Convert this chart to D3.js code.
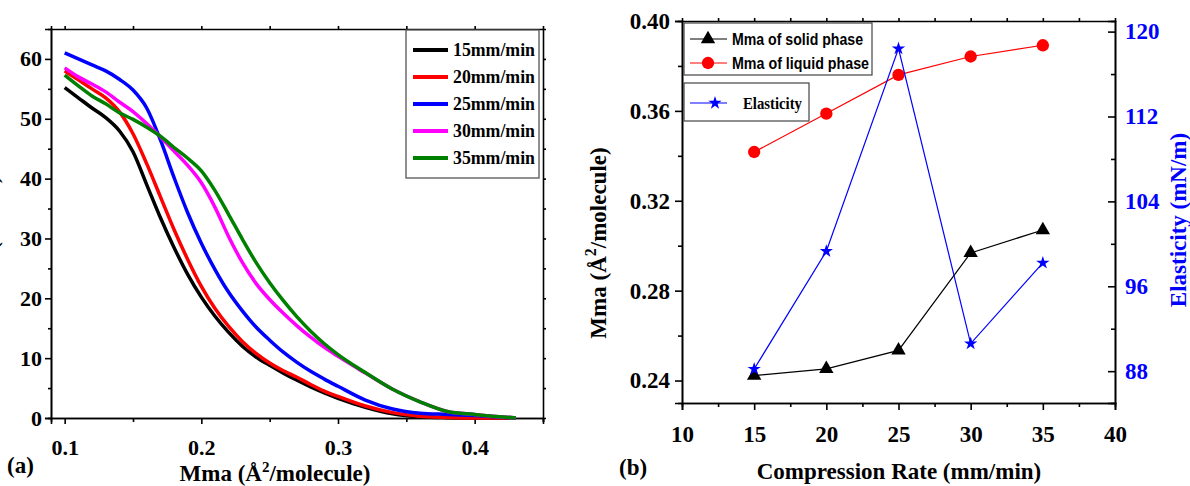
<!DOCTYPE html>
<html>
<head>
<meta charset="utf-8">
<script src="https://cdn.jsdelivr.net/npm/d3@7"></script>
<style>
body { margin: 0; background: #fff; }
svg text { font-family: "Liberation Serif", "Times New Roman", serif; font-weight: bold; }
.axis path, .axis line { stroke: #000; stroke-width: 1.6; }
</style>
</head>
<body>
<svg id="fig" width="1190" height="486"></svg>
<script>
// ---- panel (a): isotherms ----
var area = [0.10, 0.11, 0.12, 0.13, 0.14, 0.15, 0.16, 0.17, 0.18, 0.19, 0.20, 0.21, 0.22, 0.23, 0.24, 0.25, 0.26, 0.27, 0.28, 0.29, 0.30, 0.32, 0.34, 0.36, 0.38, 0.40, 0.43];
var p15 = [55.2, 53.5, 51.8, 50.2, 48.0, 44.5, 39.0, 33.5, 28.5, 24.0, 20.2, 17.0, 14.3, 12.0, 10.2, 8.8, 7.5, 6.3, 5.2, 4.2, 3.3, 1.8, 0.7, 0.2, 0.05, 0, 0];
var p20 = [58.0, 56.5, 55.0, 53.5, 51.2, 47.5, 42.5, 37.0, 31.5, 26.5, 22.0, 18.3, 15.3, 12.8, 10.8, 9.2, 7.9, 6.8, 5.6, 4.5, 3.6, 2.0, 0.9, 0.3, 0.1, 0, 0];
var p25 = [61.0, 60.0, 59.0, 58.0, 56.6, 54.8, 51.8, 46.5, 40.2, 34.3, 29.2, 24.8, 21.0, 17.9, 15.2, 13.0, 11.0, 9.3, 7.8, 6.5, 5.3, 3.0, 1.5, 0.8, 0.6, 0.4, 0];
var p30 = [58.5, 57.0, 55.8, 54.5, 52.8, 51.2, 49.2, 47.0, 44.6, 42.2, 39.3, 35.2, 30.3, 26.0, 22.5, 19.8, 17.5, 15.4, 13.5, 11.8, 10.3, 7.5, 4.8, 2.7, 1.1, 0.6, 0];
var p35 = [57.3, 55.5, 53.8, 52.5, 51.0, 49.9, 48.6, 47.1, 45.2, 43.4, 41.3, 38.0, 34.0, 29.9, 26.0, 22.6, 19.6, 16.9, 14.5, 12.4, 10.6, 7.6, 4.8, 2.7, 1.1, 0.6, 0];
var rateNames = ["15mm/min", "20mm/min", "25mm/min", "30mm/min", "35mm/min"];
var rateColors = ["#000000", "#ff0000", "#0000ff", "#ff00ff", "#008000"];
var areaTicks = [0.1, 0.2, 0.3, 0.4];
var pressureTicks = [0, 10, 20, 30, 40, 50, 60];

// ---- panel (b): Mma and elasticity vs compression rate ----
var rates = [15, 20, 25, 30, 35];
var mmaSolid = [0.2422, 0.2452, 0.2534, 0.2968, 0.3070];
var mmaLiquid = [0.3417, 0.3588, 0.3760, 0.3842, 0.3892];
var elasticity = [88.2, 99.3, 118.4, 90.6, 98.2];
var rateTicks = [10, 15, 20, 25, 30, 35, 40];
var mmaTicks = [0.24, 0.28, 0.32, 0.36, 0.40];
var elasTicks = [88, 96, 104, 112, 120];

var svg = d3.select("#fig");

function styleAxis(g, size, color) {
  g.attr("class", "axis");
  g.selectAll("text").attr("font-size", size).attr("fill", color || "#000");
  return g;
}

// ================= panel (a) =================
var xA = d3.scaleLinear().domain([0.09, 0.45]).range([51, 543]);
var yA = d3.scaleLinear().domain([0, 65]).range([418, 29]);

// minor ticks
svg.append("g").attr("transform", "translate(0,418)").call(d3.axisBottom(xA).tickValues([0.15, 0.25, 0.35, 0.45]).tickSize(4).tickFormat("")).attr("class", "axis");
svg.append("g").attr("transform", "translate(51,0)").call(d3.axisLeft(yA).tickValues([5, 15, 25, 35, 45, 55]).tickSize(3).tickFormat("")).attr("class", "axis");
svg.append("g").attr("transform", "translate(0,29)").call(d3.axisTop(xA).tickValues([0.1, 0.15, 0.2, 0.25, 0.3, 0.35, 0.4]).tickSize(3).tickFormat("")).attr("class", "axis");
svg.append("g").attr("transform", "translate(543,0)").call(d3.axisRight(yA).tickValues(d3.range(5, 65, 5)).tickSize(3).tickFormat("")).attr("class", "axis");

svg.append("g").attr("transform", "translate(0,418)")
  .call(d3.axisBottom(xA).tickValues(areaTicks).tickSize(6).tickPadding(15).tickFormat(d3.format(".1f")))
  .call(styleAxis, 22);
svg.append("g").attr("transform", "translate(51,0)")
  .call(d3.axisLeft(yA).tickValues(pressureTicks).tickSize(6).tickPadding(3))
  .call(styleAxis, 22);

var isoSeries = [p15, p20, p25, p30, p35];
var lineA = d3.line()
  .x(function(d, i) { return xA(area[i]); })
  .y(function(d) { return yA(d); })
  .curve(d3.curveMonotoneX);

isoSeries.forEach(function(s, k) {
  svg.append("path")
    .datum(s)
    .attr("d", lineA)
    .attr("fill", "none")
    .attr("stroke", rateColors[k])
    .attr("stroke-width", 3.5)
    .attr("stroke-linejoin", "round");
});

// legend (a)
svg.append("rect").attr("x", 406).attr("y", 30).attr("width", 133).attr("height", 148)
  .attr("fill", "#fff").attr("stroke", "#555").attr("stroke-width", 1.3);
rateNames.forEach(function(n, k) {
  var ly = 50 + k * 27;
  svg.append("line").attr("x1", 413).attr("x2", 448).attr("y1", ly).attr("y2", ly)
    .attr("stroke", rateColors[k]).attr("stroke-width", 4);
  svg.append("text").attr("x", 453).attr("y", ly + 6).attr("font-size", 18)
    .attr("textLength", 82).attr("lengthAdjust", "spacingAndGlyphs").text(n);
});

// titles (a)
var tA = svg.append("text").attr("x", 275).attr("y", 481).attr("text-anchor", "middle").attr("font-size", 23);
tA.append("tspan").text("Mma (Å");
tA.append("tspan").attr("dy", -9).attr("font-size", 15).text("2");
tA.append("tspan").attr("dy", 9).text("/molecule)");
svg.append("text").attr("x", 7).attr("y", 473).attr("font-size", 23).text("(a)");
// y title sits mostly beyond the left edge, as in the original figure
svg.append("text").attr("transform", "translate(-2,176) rotate(-90)").attr("text-anchor", "end")
  .attr("font-size", 22).text("Surface Pressure (mN/m)");

// ================= panel (b) =================
var xB = d3.scaleLinear().domain([10, 40]).range([682, 1115]);
var yB = d3.scaleLinear().domain([0.23, 0.40]).range([403, 21]);
var yE = d3.scaleLinear().domain([85, 121]).range([403, 21]);

svg.append("g").attr("transform", "translate(0,403)").call(d3.axisBottom(xB).tickValues(d3.range(12.5, 40, 5)).tickSize(4).tickFormat("")).attr("class", "axis");
svg.append("g").attr("transform", "translate(682,0)").call(d3.axisLeft(yB).tickValues([0.26, 0.30, 0.34, 0.38]).tickSize(4).tickFormat("")).attr("class", "axis");
svg.append("g").attr("transform", "translate(0,21)").call(d3.axisTop(xB).tickValues(d3.range(12.5, 40, 2.5)).tickSize(3).tickFormat("")).attr("class", "axis");
svg.append("g").attr("transform", "translate(1115,0)").call(d3.axisRight(yE).tickValues([92, 100, 108, 116]).tickSize(-4).tickFormat("")).attr("class", "axis");

svg.append("g").attr("transform", "translate(0,403)")
  .call(d3.axisBottom(xB).tickValues(rateTicks).tickSize(7).tickPadding(16))
  .call(styleAxis, 23);
svg.append("g").attr("transform", "translate(682,0)")
  .call(d3.axisLeft(yB).tickValues(mmaTicks).tickSize(7).tickPadding(5).tickFormat(d3.format(".2f")))
  .call(styleAxis, 23);
svg.append("g").attr("transform", "translate(1115,0)")
  .call(d3.axisRight(yE).tickValues(elasTicks).tickSize(-7).tickPadding(10))
  .call(styleAxis, 23, "#0000ff");

function drawSeries(vals, yScale, color, symbol, size) {
  var ln = d3.line().x(function(d, i) { return xB(rates[i]); }).y(function(d) { return yScale(d); });
  svg.append("path").datum(vals).attr("d", ln).attr("fill", "none")
    .attr("stroke", color).attr("stroke-width", 1.2);
  svg.selectAll(null).data(vals).enter().append("path")
    .attr("d", d3.symbol().type(symbol).size(size))
    .attr("transform", function(d, i) { return "translate(" + xB(rates[i]) + "," + yScale(d) + ")"; })
    .attr("fill", color);
}
drawSeries(mmaSolid, yB, "#000000", d3.symbolTriangle, 90);
drawSeries(mmaLiquid, yB, "#ff0000", d3.symbolCircle, 120);
drawSeries(elasticity, yE, "#0000ff", d3.symbolStar, 55);

// legends (b)
svg.append("rect").attr("x", 684).attr("y", 23).attr("width", 188).attr("height", 52)
  .attr("fill", "#fff").attr("stroke", "#444").attr("stroke-width", 1.2);
svg.append("rect").attr("x", 684).attr("y", 83).attr("width", 125).attr("height", 38)
  .attr("fill", "#fff").attr("stroke", "#444").attr("stroke-width", 1.2);

var legB = [
  { name: "Mma of solid phase", color: "#000000", sym: d3.symbolTriangle, size: 90, y: 39, len: 131, sans: true },
  { name: "Mma of liquid phase", color: "#ff0000", sym: d3.symbolCircle, size: 120, y: 63, len: 137, sans: true },
  { name: "Elasticity", color: "#0000ff", sym: d3.symbolStar, size: 55, y: 103, len: 59, sans: false }
];
legB.forEach(function(e) {
  svg.append("line").attr("x1", 690).attr("x2", 727).attr("y1", e.y).attr("y2", e.y)
    .attr("stroke", e.color).attr("stroke-width", 1.2);
  svg.append("path").attr("d", d3.symbol().type(e.sym).size(e.size))
    .attr("transform", "translate(" + (e.sans ? 708 : 715) + "," + e.y + ")").attr("fill", e.color);
  svg.append("text").attr("x", e.sans ? 732 : 743).attr("y", e.y + 6)
    .attr("font-size", 16)
    .style("font-family", e.sans ? "'Liberation Sans', Arial, sans-serif" : null)
    .attr("textLength", e.len).attr("lengthAdjust", "spacingAndGlyphs").text(e.name);
});

// titles (b)
var tB = svg.append("text").attr("transform", "translate(606,243) rotate(-90)").attr("text-anchor", "middle").attr("font-size", 23);
tB.append("tspan").text("Mma (Å");
tB.append("tspan").attr("dy", -10).attr("font-size", 16).text("2");
tB.append("tspan").attr("dy", 10).text("/molecule)");
svg.append("text").attr("transform", "translate(1186,220) rotate(-90)").attr("text-anchor", "middle")
  .attr("font-size", 23).attr("fill", "#0000ff").text("Elasticity (mN/m)");
svg.append("text").attr("x", 899).attr("y", 479).attr("text-anchor", "middle").attr("font-size", 23).text("Compression Rate (mm/min)");
svg.append("text").attr("x", 619).attr("y", 475).attr("font-size", 23).text("(b)");
</script>
</body>
</html>
